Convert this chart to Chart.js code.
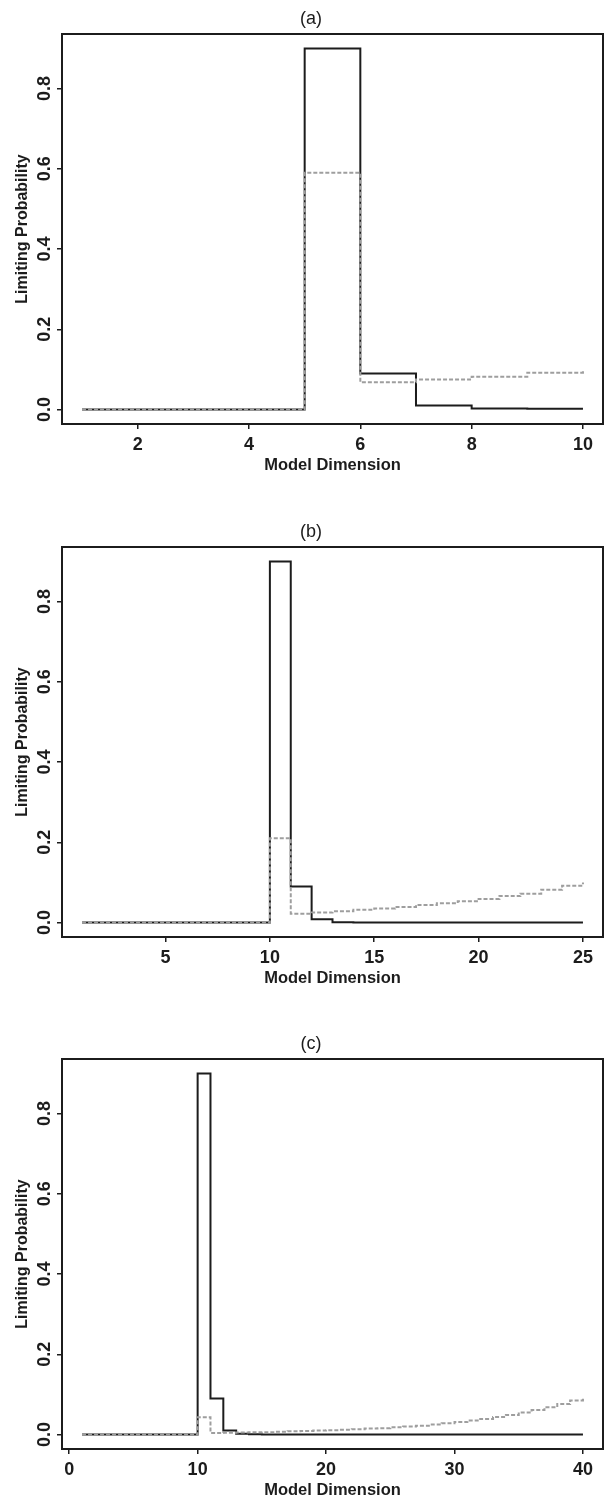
<!DOCTYPE html>
<html><head><meta charset="utf-8">
<script src="https://cdn.jsdelivr.net/npm/chart.js@4.4.1/dist/chart.umd.min.js"></script>
<style>
html,body{margin:0;padding:0;background:#fff;width:610px;height:1499px;overflow:hidden;position:relative}
canvas{position:absolute;left:0}
</style></head><body>
<canvas id="ca" width="610" height="512" style="top:0px;width:610px;height:512px"></canvas>
<canvas id="cb" width="610" height="512" style="top:513px;width:610px;height:512px"></canvas>
<canvas id="cc" width="610" height="512" style="top:1025px;width:610px;height:512px"></canvas>
<script>
// ---------- data ----------
const panelTitles = ['(a)', '(b)', '(c)'];
const xAxisLabel = 'Model Dimension';
const yAxisLabel = 'Limiting Probability';
const yTickValues = [0, 0.2, 0.4, 0.6, 0.8];

// panel (a)
const dimsA = [1,2,3,4,5,6,7,8,9,10];
const solidA = [0,0,0,0,0.9,0.09,0.01,0.0025,0.002,0.002];
const dashedA = [0,0,0,0,0.59,0.068,0.075,0.082,0.092,0.096];
const xTicksA = [2,4,6,8,10];

// panel (b)
const dimsB = [1,2,3,4,5,6,7,8,9,10,11,12,13,14,15,16,17,18,19,20,21,22,23,24,25];
const solidB = [0,0,0,0,0,0,0,0,0,0.9,0.09,0.008,0.001,0,0,0,0,0,0,0,0,0,0,0,0];
const dashedB = [0,0,0,0,0,0,0,0,0,0.21,0.022,0.025,0.028,0.032,0.035,0.039,0.044,0.048,0.053,0.059,0.066,0.072,0.082,0.092,0.1];
const xTicksB = [5,10,15,20,25];

// panel (c)
const dimsC = [1,2,3,4,5,6,7,8,9,10,11,12,13,14,15,16,17,18,19,20,21,22,23,24,25,26,27,28,29,30,31,32,33,34,35,36,37,38,39,40];
const solidC = [0,0,0,0,0,0,0,0,0,0.9,0.09,0.01,0.002,0.001,0,0,0,0,0,0,0,0,0,0,0,0,0,0,0,0,0,0,0,0,0,0,0,0,0,0];
const dashedC = [0,0,0,0,0,0,0,0,0,0.043,0.004,0.0045,0.005,0.0055,0.006,0.007,0.008,0.009,0.01,0.011,0.012,0.013,0.015,0.016,0.018,0.02,0.022,0.025,0.028,0.031,0.035,0.039,0.044,0.049,0.055,0.061,0.068,0.076,0.085,0.094];
const xTicksC = [0,10,20,30,40];

// ---------- drawing ----------
const FONT = '"Liberation Sans", Arial, Helvetica, sans-serif';
const INK = '#1c1c1c';

const decor = {
  id: 'decor',
  afterDraw(chart, args, opts) {
    const {ctx, chartArea: a} = chart;
    const y = chart.scales.y;
    ctx.save();
    ctx.strokeStyle = INK;
    ctx.lineWidth = 2;
    ctx.strokeRect(a.left, a.top, a.right - a.left, a.bottom - a.top);
    ctx.fillStyle = INK;
    ctx.font = 'bold 18px ' + FONT;
    ctx.textAlign = 'center';
    ctx.textBaseline = 'middle';
    yTickValues.forEach(v => {
      const py = y.getPixelForValue(v);
      ctx.save();
      ctx.translate(45, py);
      ctx.rotate(-Math.PI / 2);
      ctx.fillText(v.toFixed(1), 0, 0);
      ctx.restore();
    });
    ctx.font = '18px ' + FONT;
    ctx.fillText(opts.title, 311, 19);
    ctx.restore();
  }
};

function makeChart(id, title, dims, solid, dashed, xTicks) {
  const lo = dims[0], hi = dims[dims.length - 1];
  const xExt = (hi - lo) * 0.04;
  const yTop = Math.max(...solid, ...dashed);
  const yExt = yTop * 0.04;
  const pts = (vals) => dims.map((d, i) => ({x: d, y: vals[i]}));
  return new Chart(document.getElementById(id), {
    type: 'line',
    data: {
      datasets: [
        {label: 'dashed', data: pts(dashed), borderColor: '#9e9e9e', borderWidth: 2,
         borderDash: [4, 2], stepped: 'before', pointRadius: 0, fill: false},
        {label: 'solid', data: pts(solid), borderColor: INK, borderWidth: 2,
         stepped: 'before', pointRadius: 0, fill: false}
      ]
    },
    options: {
      responsive: false,
      devicePixelRatio: 1,
      animation: false,
      events: [],
      layout: {padding: {top: 34, right: 7, left: 0, bottom: 0}},
      plugins: {legend: {display: false}, tooltip: {enabled: false}, title: {display: false},
                decor: {title: title}},
      scales: {
        x: {
          type: 'linear', min: lo - xExt, max: hi + xExt,
          afterBuildTicks: s => { s.ticks = xTicks.map(v => ({value: v})); },
          afterFit: s => { s.height = 88; },
          ticks: {font: {family: FONT, size: 18, weight: 'bold'}, color: INK, padding: 5,
                  maxRotation: 0, minRotation: 0, autoSkip: false, callback: v => String(v)},
          grid: {display: true, drawOnChartArea: false, drawTicks: true, tickLength: 5,
                 color: INK, lineWidth: 1.5},
          border: {display: false},
          title: {display: true, text: xAxisLabel, color: INK,
                  font: {family: FONT, size: 16.5, weight: 'bold'}, padding: {top: 0, bottom: 37}}
        },
        y: {
          type: 'linear', min: -yExt, max: yTop + yExt,
          afterBuildTicks: s => { s.ticks = yTickValues.map(v => ({value: v})); },
          afterFit: s => { s.width = 62; },
          ticks: {display: false},
          grid: {display: true, drawOnChartArea: false, drawTicks: true, tickLength: 5,
                 color: INK, lineWidth: 1.5},
          border: {display: false},
          title: {display: true, text: yAxisLabel, color: INK,
                  font: {family: FONT, size: 16, weight: 'bold'}, padding: {top: 13, bottom: 0}}
        }
      }
    },
    plugins: [decor]
  });
}

makeChart('ca', panelTitles[0], dimsA, solidA, dashedA, xTicksA);
makeChart('cb', panelTitles[1], dimsB, solidB, dashedB, xTicksB);
makeChart('cc', panelTitles[2], dimsC, solidC, dashedC, xTicksC);
</script>
</body></html>
